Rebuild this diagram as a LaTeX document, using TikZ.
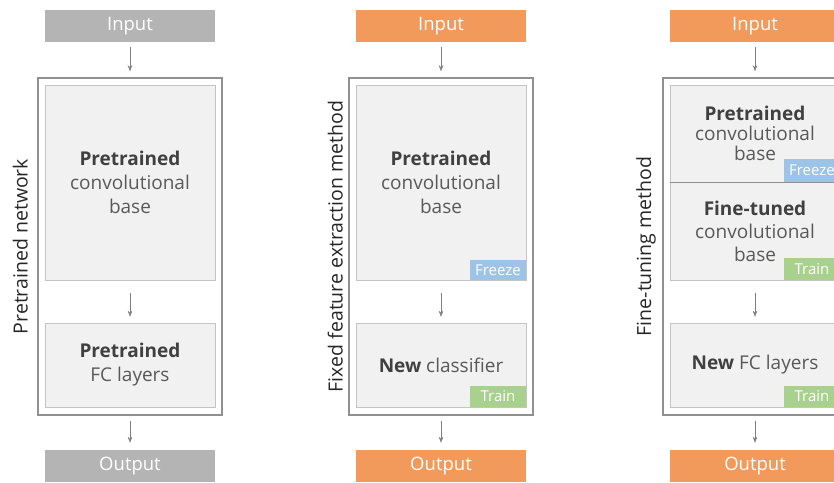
\documentclass[tikz,border=0pt]{standalone}
\usepackage{fontspec}
\setmainfont{Open Sans}
\usetikzlibrary{positioning,arrows.meta}

\definecolor{iogray}{HTML}{B4B4B4}
\definecolor{ioorange}{HTML}{F19A5C}
\definecolor{freezeblue}{HTML}{9DC3E6}
\definecolor{traingreen}{HTML}{A9D18E}
\definecolor{layerfill}{HTML}{F1F1F1}
\definecolor{layerline}{HTML}{C4C4C4}
\definecolor{framegray}{HTML}{909090}
\definecolor{arrowgray}{HTML}{7F7F7F}
\definecolor{textgray}{HTML}{595959}
\definecolor{boldgray}{HTML}{404040}
\definecolor{labelblack}{HTML}{262626}

\newcommand{\boldpart}[1]{{\color{boldgray}\bfseries #1}}

\tikzset{
  iobox/.style={fill=#1, text=white, minimum width=170pt, minimum height=32pt,
    inner sep=0pt, font=\fontsize{18.5}{20}\selectfont},
  layerbox/.style={draw=layerline, fill=layerfill, minimum width=170pt,
    minimum height=#1, inner sep=0pt, align=center, text=textgray,
    font=\fontsize{19}{24}\selectfont},
  netframe/.style={draw=framegray, line width=1.5pt, inner sep=0pt},
  statetag/.style={fill=#1, text=white, minimum width=56pt, minimum height=21pt,
    inner sep=0pt, anchor=south east, font=\fontsize{15}{16}\selectfont},
  sidelabel/.style={rotate=90, anchor=south, text=labelblack,
    font=\fontsize{19.5}{22}\selectfont},
  flow/.style={draw=arrowgray, -{Stealth[length=6pt,width=4.5pt]}},
}

\begin{document}
\begin{tikzpicture}[x=1pt, y=-1pt]
  \useasboundingbox (0,0) rectangle (834,482);

  % pretrained network
  \node[iobox=iogray] (in1) at (130,26) {Input};
  \node[netframe, minimum width=184pt, minimum height=337pt] (net1) at (130,246.5) {};
  \node[layerbox=195pt] (conv1) at (130,182.5) {\boldpart{Pretrained}\\convolutional\\base};
  \node[layerbox=84pt] (fc1) at (130,365) {\boldpart{Pretrained}\\FC layers};
  \node[iobox=iogray] (out1) at (130,466) {Output};
  \node[sidelabel] (lab1) at ([xshift=-6pt]net1.west) {Pretrained network};
  \draw[flow, shorten <=5pt, shorten >=6pt] (in1) -- (net1);
  \draw[flow, shorten <=13pt, shorten >=6pt] (conv1) -- (fc1);
  \draw[flow, shorten <=5pt, shorten >=7pt] (net1) -- (out1);

  % fixed feature extraction
  \node[iobox=ioorange] (in2) at (441,26) {Input};
  \node[netframe, minimum width=184pt, minimum height=337pt] (net2) at (441,246.5) {};
  \node[layerbox=195pt] (conv2) at (441,182.5) {\boldpart{Pretrained}\\convolutional\\base};
  \node[statetag=freezeblue, minimum height=20pt] (frz2) at (conv2.south east) {Freeze};
  \node[layerbox=84pt] (cls2) at (441,365) {\boldpart{New} classifier};
  \node[statetag=traingreen] (trn2) at (cls2.south east) {Train};
  \node[iobox=ioorange] (out2) at (441,466) {Output};
  \node[sidelabel] (lab2) at ([xshift=-2pt]net2.west) {Fixed feature extraction method};
  \draw[flow, shorten <=5pt, shorten >=6pt] (in2) -- (net2);
  \draw[flow, shorten <=13pt, shorten >=6pt] (conv2) -- (cls2);
  \draw[flow, shorten <=5pt, shorten >=7pt] (net2) -- (out2);

  % fine-tuning
  \node[iobox=ioorange] (in3) at (755,26) {Input};
  \node[netframe, minimum width=184pt, minimum height=337pt] (net3) at (755,246.5) {};
  \node[layerbox=97pt, font=\fontsize{19}{20}\selectfont] (conv3) at (755,133.5) {\boldpart{Pretrained}\\convolutional\\base};
  \node[layerbox=98pt, font=\fontsize{19}{23}\selectfont] (tune3) at (755,231) {\boldpart{Fine-tuned}\\convolutional\\base};
  \draw[framegray] (tune3.north west) -- (tune3.north east);
  \node[statetag=freezeblue, minimum height=23pt] (frz3) at (conv3.south east) {Freeze};
  \node[statetag=traingreen, minimum height=22pt] (trn3a) at (tune3.south east) {Train};
  \node[layerbox=84pt] (fc3) at (755,365) {\boldpart{New} FC layers};
  \node[statetag=traingreen] (trn3b) at (fc3.south east) {Train};
  \node[iobox=ioorange] (out3) at (755,466) {Output};
  \node[sidelabel] (lab3) at ([xshift=-3pt]net3.west) {Fine-tuning method};
  \draw[flow, shorten <=5pt, shorten >=6pt] (in3) -- (net3);
  \draw[flow, shorten <=13pt, shorten >=6pt] (tune3) -- (fc3);
  \draw[flow, shorten <=5pt, shorten >=7pt] (net3) -- (out3);
\end{tikzpicture}
\end{document}
